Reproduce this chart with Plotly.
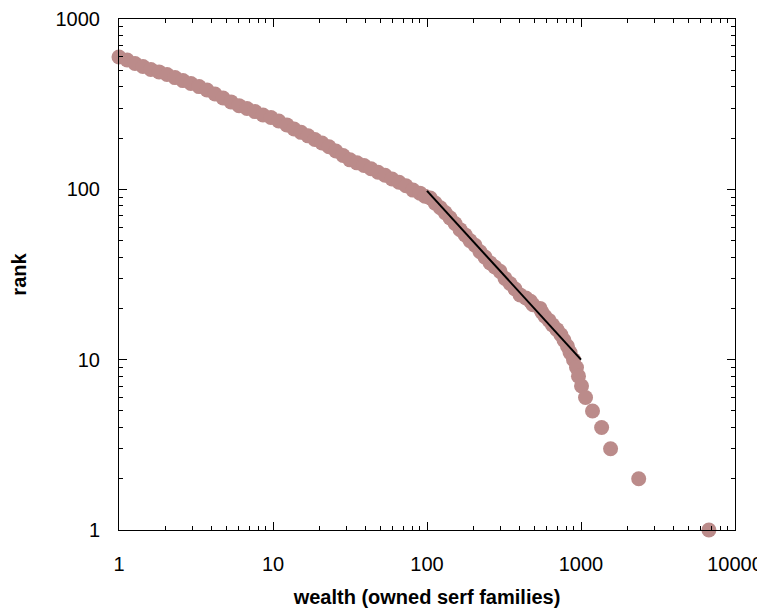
import plotly.graph_objects as go

# Rank-size data (wealth = owned serf families, rank)
wealth = [
    1.0, 1.13, 1.27, 1.43, 1.61, 1.82, 2.05, 2.31, 2.60, 2.93, 3.31, 3.73, 4.20, 4.74, 5.34,
    6.02, 6.78, 7.64, 8.61, 9.70, 10.9,
    12.3, 13.7, 15.2, 16.9, 18.7, 20.8, 23.1, 25.6, 28.5, 31.6, 35.1, 39.0, 43.3, 48.1, 53.4,
    59.3, 65.8, 73.0, 81.1, 90.0,
    97, 105, 113, 122, 131, 141, 152, 164, 177, 190, 205, 221, 238, 257, 276, 298, 321, 346,
    373, 402, 439, 470, 488, 542, 558, 583, 620, 653, 698, 741, 776, 817, 849, 894, 935, 963,
    1008, 1070, 1188, 1361, 1556, 2370, 6770,
]
rank = [
    598, 574, 548, 526, 505, 489, 472, 453, 435, 418, 401, 383, 363, 344, 326,
    310, 298, 286, 273, 264, 252,
    239, 226, 216, 206, 196, 187, 178, 168, 158, 149, 143, 138, 132, 126, 121,
    115, 110, 105, 99, 95,
    91, 89, 83, 78, 73, 68, 63, 58, 54, 50, 47, 43, 40, 37, 35, 33, 30, 28,
    26, 24, 23, 22, 21, 20, 19, 18, 17, 16, 15, 14, 13, 12, 11, 10, 9, 8,
    7, 6, 5, 4, 3, 2, 1,
]

# Power-law fit line
fit_wealth = [100, 1000]
fit_rank = [98, 10]

x_tickvals = [1, 10, 100, 1000, 10000]
x_ticktext = ["1", "10", "100", "1000", "10000"]
y_tickvals = [1, 10, 100, 1000]
y_ticktext = ["1", "10", "100", "1000"]

x_minor = [m * 10 ** e for e in range(4) for m in range(2, 10)]
y_minor = [m * 10 ** e for e in range(3) for m in range(2, 10)]

FONT = "Liberation Sans, Arial, sans-serif"

fig = go.Figure()
fig.add_trace(go.Scatter(
    x=wealth, y=rank, mode="markers",
    marker=dict(size=15, color="#bb8b8a", line=dict(width=0)),
    cliponaxis=False, name="data",
))
fig.add_trace(go.Scatter(
    x=fit_wealth, y=fit_rank, mode="lines",
    line=dict(color="black", width=2), name="fit",
))

axis_common = dict(
    type="log", showgrid=False, zeroline=False, showline=True,
    linecolor="black", linewidth=1, mirror="ticks",
    ticks="inside", ticklen=8, tickwidth=1, tickcolor="black",
    tickfont=dict(family=FONT, size=20, color="black"),
    tickmode="array", automargin=False,
)

fig.update_xaxes(
    **axis_common, range=[0, 4],
    tickvals=x_tickvals, ticktext=x_ticktext,
    minor=dict(tickmode="array", tickvals=x_minor, ticks="inside", ticklen=4,
               tickcolor="black", tickwidth=1, showgrid=False),
    ticklabelstandoff=16,
    title=dict(text="wealth (owned serf families)", standoff=15,
               font=dict(family=FONT, size=20, color="black", weight="bold")),
)
fig.update_yaxes(
    **axis_common, range=[0, 3],
    tickvals=y_tickvals, ticktext=y_ticktext,
    minor=dict(tickmode="array", tickvals=y_minor, ticks="inside", ticklen=4,
               tickcolor="black", tickwidth=1, showgrid=False),
    ticklabelstandoff=14,
    title=dict(text="rank", standoff=28,
               font=dict(family=FONT, size=20, color="black", weight="bold")),
)

# The page body adds an 8 px offset, so the figure is sized to fill the window.
fig.update_layout(
    width=757, height=601,
    margin=dict(l=111, r=30, t=11, b=79),
    plot_bgcolor="white", paper_bgcolor="white",
    showlegend=False,
)

fig.write_html("out.html")
